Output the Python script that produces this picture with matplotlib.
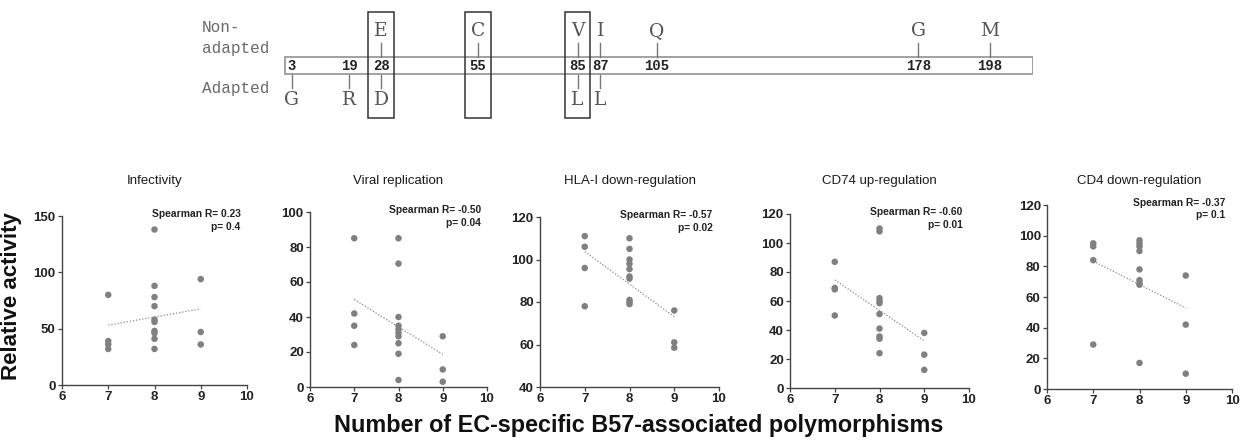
import numpy as np
import matplotlib
matplotlib.use("Agg")
import matplotlib.pyplot as plt
from matplotlib.patches import Rectangle
from matplotlib import transforms

# ---------------- data ----------------
# top schematic
residues = [3, 19, 28, 55, 85, 87, 105, 178, 198]
non_adapted = {28: "E", 55: "C", 85: "V", 87: "I", 105: "Q", 178: "G", 198: "M"}
adapted = {3: "G", 19: "R", 28: "D", 85: "L", 87: "L"}
boxed_residues = [28, 55, 85]

# scatter panels
titles = ["Infectivity", "Viral replication", "HLA-I down-regulation",
          "CD74 up-regulation", "CD4 down-regulation"]
spearman_r = ["0.23", "-0.50", "-0.57", "-0.60", "-0.37"]
p_values = ["0.4", "0.04", "0.02", "0.01", "0.1"]

infect_x = [7, 7, 7, 7, 8, 8, 8, 8, 8, 8, 8, 8, 8, 8, 9, 9, 9]
infect_y = [80, 39, 36, 32, 138, 88, 78, 70, 58, 56, 48, 46, 41, 32, 94, 47, 36]

viral_x = [7, 7, 7, 7, 8, 8, 8, 8, 8, 8, 8, 8, 8, 8, 9, 9, 9]
viral_y = [85, 42, 35, 24, 85, 70.5, 40, 35, 33, 31, 29, 25, 19, 4, 29, 10, 3]

hla_x = [7, 7, 7, 7, 8, 8, 8, 8, 8, 8, 8, 8, 8, 8, 9, 9, 9]
hla_y = [111, 106, 96, 78, 110, 105, 100, 98, 95.5, 92, 91, 81, 80, 79, 76, 61, 58.5]

cd74_x = [7, 7, 7, 7, 8, 8, 8, 8, 8, 8, 8, 8, 8, 8, 9, 9, 9]
cd74_y = [87, 69, 68, 50, 110, 108, 62, 60, 58.5, 51, 41, 35.5, 34, 24, 38, 23, 12.5]

cd4_x = [7, 7, 7, 7, 8, 8, 8, 8, 8, 8, 8, 8, 8, 9, 9, 9]
cd4_y = [95, 93, 84, 29, 97, 95, 93, 90, 78, 71, 69, 68, 17, 74, 42, 10]

xs = [infect_x, viral_x, hla_x, cd74_x, cd4_x]
ys = [infect_y, viral_y, hla_y, cd74_y, cd4_y]
y_limits = [(0, 150), (0, 100), (40, 120), (0, 120), (0, 120)]
y_steps = [50, 20, 20, 20, 20]
x_ticks = [6, 7, 8, 9, 10]

# ---------------- figure ----------------
W, H = 1247, 440
fig = plt.figure(figsize=(W / 100, H / 100), dpi=100)
SANS = "Liberation Sans"
MONO = "Liberation Mono"
SERIF = "DejaVu Serif"


def px_axes(left, right, top, bottom):
    return fig.add_axes([left / W, 1 - bottom / H, (right - left) / W, (bottom - top) / H])


# ---------- top schematic ----------
ax0 = px_axes(281, 1033, 0, 130)
ax0.set_xlim(0, 210)
ax0.set_ylim(130, 0)
ax0.axis("off")
nudge = {85: -2.2, 87: 2.2}
gray_txt = "#6a6a6a"
ax0.add_patch(Rectangle((1, 57), 209, 17, fill=False, ec="#9a9a9a", lw=1.3))
for r in residues:
    xr = r + nudge.get(r, 0)
    ax0.text(xr, 66, str(r), ha="center", va="center", family=MONO,
             fontsize=10, color="#222222", weight="bold")
    if r in non_adapted:
        ax0.plot([xr, xr], [43, 57], color="#777777", lw=1)
        ax0.text(xr, 31, non_adapted[r], ha="center", va="center",
                 family=SERIF, fontsize=13.5, color="#555555")
    if r in adapted:
        ax0.plot([xr, xr], [75, 88], color="#777777", lw=1)
        ax0.text(xr, 100, adapted[r], ha="center", va="center",
                 family=SERIF, fontsize=13.5, color="#555555")
for r in boxed_residues:
    xr = r + nudge.get(r, 0)
    ax0.add_patch(Rectangle((xr - 3.6, 12), 7.2, 106, fill=False,
                            ec="#333333", lw=1.1, clip_on=False))
ax0.text(-22, 38, "Non-\nadapted", ha="left", va="center", family=MONO,
         fontsize=11.5, color=gray_txt, linespacing=1.5, clip_on=False)
ax0.text(-22, 88, "Adapted", ha="left", va="center", family=MONO,
         fontsize=11.5, color=gray_txt, clip_on=False)

# ---------- scatter panels ----------
boxes = [(62, 247, 216, 385), (310, 487, 212, 387), (540, 719, 217, 387),
         (790, 969, 214, 388), (1047, 1232, 205, 389)]
dot_color = "#808080"
for i in range(5):
    ax = px_axes(*boxes[i])
    x = np.array(xs[i], dtype=float)
    y = np.array(ys[i], dtype=float)
    ax.scatter(x, y, s=22, color=dot_color, edgecolors="none", zorder=3, clip_on=False)
    slope, icpt = np.polyfit(x, y, 1)
    xl = np.array([min(x), max(x)])
    ax.plot(xl, slope * xl + icpt, ls=(0, (1, 1.5)), lw=0.9, color="#8a8a8a")
    ax.set_xlim(6, 10)
    ax.set_ylim(*y_limits[i])
    ax.set_xticks(x_ticks)
    ax.set_yticks(np.arange(y_limits[i][0], y_limits[i][1] + 1, y_steps[i]))
    for s in ["top", "right"]:
        ax.spines[s].set_visible(False)
    for s in ["left", "bottom"]:
        ax.spines[s].set_color("#444444")
        ax.spines[s].set_linewidth(1.0)
    ax.tick_params(axis="both", length=3, width=0.9, color="#444444", pad=1.5,
                   labelsize=9.5)
    for lab in ax.get_xticklabels() + ax.get_yticklabels():
        lab.set_fontfamily(SANS)
        lab.set_fontweight("bold")
        lab.set_color("#222222")
    tr = transforms.blended_transform_factory(ax.transAxes, fig.transFigure)
    ax.text(0.5, 1 - 181 / H, titles[i], transform=tr, ha="center", va="center",
            family=SANS, fontsize=9.5, color="#1a1a1a")
    ax.text(0.965, 1.04, f"Spearman R= {spearman_r[i]}\np= {p_values[i]}",
            transform=ax.transAxes, ha="right", va="top", multialignment="right",
            family=SANS, fontsize=7.4, weight="bold", color="#222222", linespacing=1.35)

fig.text(12 / W, 1 - 296 / H, "Relative activity", rotation=90, ha="center",
         va="center", family=SANS, fontsize=16, weight="bold", color="#111111")
fig.text(639 / W, 1 - 425 / H, "Number of EC-specific B57-associated polymorphisms",
         ha="center", va="center", family=SANS, fontsize=16.8, weight="bold",
         color="#111111")

fig.savefig("out.png", dpi=100, facecolor="white")
